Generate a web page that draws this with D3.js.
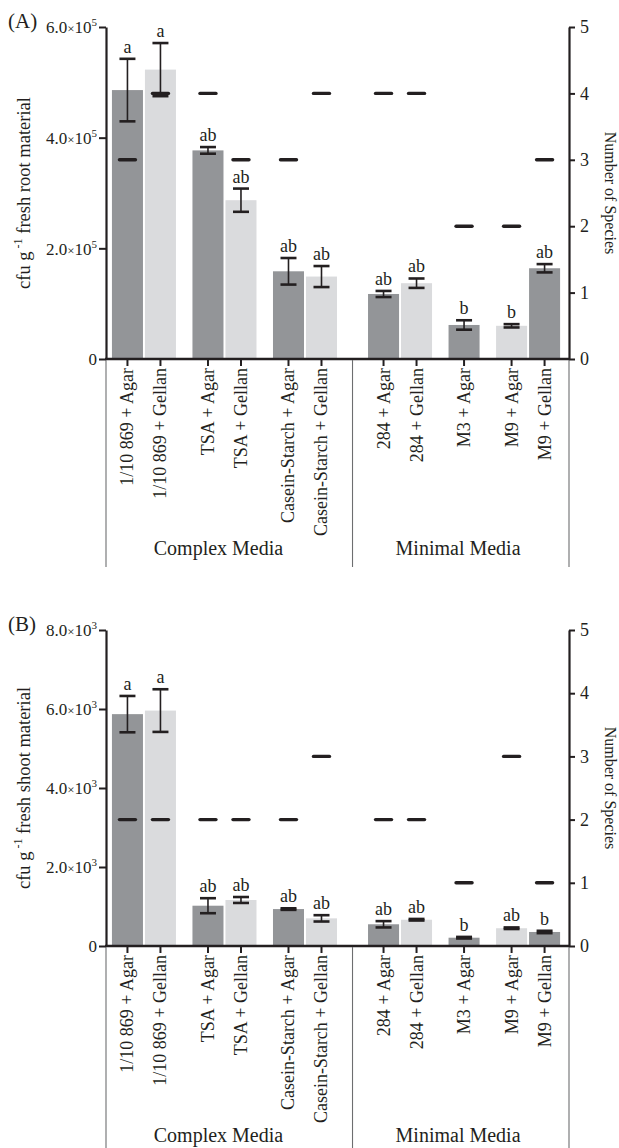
<!DOCTYPE html>
<html>
<head>
<meta charset="utf-8">
<script src="https://cdn.jsdelivr.net/npm/d3@7"></script>
<style>
  html, body { margin: 0; padding: 0; background: #fff; }
  svg { display: block; font-family: "Liberation Serif", "DejaVu Serif", serif; }
</style>
</head>
<body>
<svg id="chart" width="619" height="1148"></svg>
<script>
// Culture media (x categories) and the media class each belongs to
const media = [
  "1/10 869 + Agar", "1/10 869 + Gellan",
  "TSA + Agar", "TSA + Gellan",
  "Casein-Starch + Agar", "Casein-Starch + Gellan",
  "284 + Agar", "284 + Gellan",
  "M3 + Agar",
  "M9 + Agar", "M9 + Gellan"
];
const mediaGroup = ["Complex Media", "Complex Media", "Complex Media", "Complex Media", "Complex Media", "Complex Media",
  "Minimal Media", "Minimal Media", "Minimal Media", "Minimal Media", "Minimal Media"];
const groups = ["Complex Media", "Minimal Media"];
// spacer units placed before each bar (pairs separated, classes separated more)
const spacersBefore = [0, 0, 1, 1, 2, 2, 4, 4, 5, 6, 6];

// (A) roots: cfu per g fresh material, standard error, number of species, letters
const rootCfu = [4.86e5, 5.23e5, 3.77e5, 2.87e5, 1.585e5, 1.49e5, 1.175e5, 1.37e5, 0.615e5, 0.60e5, 1.64e5];
const rootErr = [0.565e5, 0.48e5, 0.06e5, 0.21e5, 0.24e5, 0.19e5, 0.055e5, 0.085e5, 0.085e5, 0.03e5, 0.075e5];
const rootSpecies = [3, 4, 4, 3, 3, 4, 4, 4, 2, 2, 3];
const rootLetters = ["a", "a", "ab", "ab", "ab", "ab", "ab", "ab", "b", "b", "ab"];
const rootTicks = [0, 2e5, 4e5, 6e5];
const rootTickMant = ["0", "2.0", "4.0", "6.0"];
const rootTickExp = ["", "5", "5", "5"];

// (B) shoots
const shootCfu = [5.87e3, 5.96e3, 1.02e3, 1.165e3, 0.935e3, 0.70e3, 0.55e3, 0.665e3, 0.21e3, 0.45e3, 0.355e3];
const shootErr = [0.46e3, 0.54e3, 0.19e3, 0.075e3, 0.02e3, 0.08e3, 0.08e3, 0.02e3, 0.02e3, 0.02e3, 0.03e3];
const shootSpecies = [2, 2, 2, 2, 2, 3, 2, 2, 1, 3, 1];
const shootLetters = ["a", "a", "ab", "ab", "ab", "ab", "ab", "ab", "b", "ab", "b"];
const shootTicks = [0, 2e3, 4e3, 6e3, 8e3];
const shootTickMant = ["0", "2.0", "4.0", "6.0", "8.0"];
const shootTickExp = ["", "3", "3", "3", "3"];

const speciesTicks = [0, 1, 2, 3, 4, 5];

const DARK = "#939598";
const LIGHT = "#dadbdd";
const INK = "#231f20";

const svg = d3.select("#chart");

const plotLeft = 106, plotRight = 569;
const spacer = 0.44;
const slotPos = media.map((m, i) => i + spacersBefore[i] * spacer);
const x = d3.scaleLinear().domain([-0.65, 13.38]).range([plotLeft, plotRight]);
const slotW = x(1) - x(0);
const barW = slotW * 0.94;

function panel(cfg) {
  const g = svg.append("g");
  const y = d3.scaleLinear().domain([0, cfg.yMax]).range([cfg.bottom, cfg.top]);
  const ys = d3.scaleLinear().domain([0, 5]).range([cfg.bottom, cfg.top]);

  // bars
  g.selectAll("rect.bar").data(cfg.values).join("rect")
    .attr("class", "bar")
    .attr("x", (d, i) => x(slotPos[i]) - barW / 2)
    .attr("width", barW)
    .attr("y", d => y(d))
    .attr("height", d => y(0) - y(d))
    .attr("fill", (d, i) => i % 2 === 0 ? DARK : LIGHT);

  // error bars
  const eb = g.selectAll("g.err").data(cfg.values).join("g").attr("class", "err");
  eb.append("line")
    .attr("x1", (d, i) => x(slotPos[i])).attr("x2", (d, i) => x(slotPos[i]))
    .attr("y1", (d, i) => y(d + cfg.errors[i])).attr("y2", (d, i) => y(d - cfg.errors[i]))
    .attr("stroke", INK).attr("stroke-width", 1.6);
  [1, -1].forEach(s => {
    eb.append("line")
      .attr("x1", (d, i) => x(slotPos[i]) - 8).attr("x2", (d, i) => x(slotPos[i]) + 8)
      .attr("y1", (d, i) => y(d + s * cfg.errors[i])).attr("y2", (d, i) => y(d + s * cfg.errors[i]))
      .attr("stroke", INK).attr("stroke-width", 2.6);
  });

  // significance letters
  g.selectAll("text.sig").data(cfg.letters).join("text")
    .attr("class", "sig")
    .attr("x", (d, i) => x(slotPos[i]))
    .attr("y", (d, i) => y(cfg.values[i] + cfg.errors[i]) - 6)
    .attr("text-anchor", "middle")
    .attr("font-size", 18)
    .attr("fill", INK)
    .text(d => d);

  // number of species markers
  g.selectAll("line.sp").data(cfg.species).join("line")
    .attr("class", "sp")
    .attr("x1", (d, i) => x(slotPos[i]) - 8).attr("x2", (d, i) => x(slotPos[i]) + 8)
    .attr("y1", d => ys(d)).attr("y2", d => ys(d))
    .attr("stroke", INK).attr("stroke-width", 3.4).attr("stroke-linecap", "round");

  // left axis
  const la = g.append("g").attr("transform", `translate(${plotLeft},0)`)
    .call(d3.axisLeft(y).tickValues(cfg.ticks).tickSize(7).tickSizeOuter(0).tickFormat(""));
  la.select(".domain").attr("stroke", INK).attr("stroke-width", 2.2);
  la.selectAll(".tick line").attr("stroke", INK).attr("stroke-width", 2);
  la.selectAll(".tick").each(function (d, i) {
    const t = d3.select(this).append("text")
      .attr("x", -9).attr("dy", "0.34em")
      .attr("text-anchor", "end").attr("fill", INK)
      .attr("font-size", 17).attr("font-family", "Liberation Serif, serif");
    if (cfg.tickExp[i] === "") {
      t.text(cfg.tickMant[i]);
    } else {
      t.append("tspan").text(cfg.tickMant[i]);
      t.append("tspan").attr("font-size", 13).text("×");
      t.append("tspan").text("10");
      t.append("tspan").attr("font-size", 11).attr("dy", -7).text(cfg.tickExp[i]);
    }
  });

  // right axis (number of species)
  const ra = g.append("g").attr("transform", `translate(${plotRight},0)`)
    .call(d3.axisRight(ys).tickValues(speciesTicks).tickFormat(d3.format("d"))
      .tickSize(6).tickSizeOuter(0).tickPadding(5));
  ra.select(".domain").attr("stroke", INK).attr("stroke-width", 2.2);
  ra.selectAll(".tick line").attr("stroke", INK).attr("stroke-width", 2);
  ra.selectAll(".tick text").attr("font-size", 18).attr("fill", INK)
    .attr("font-family", "Liberation Serif, serif");

  // bottom axis with category ticks
  g.append("line")
    .attr("x1", plotLeft - 1).attr("x2", plotRight + 1)
    .attr("y1", cfg.bottom).attr("y2", cfg.bottom)
    .attr("stroke", INK).attr("stroke-width", 2.4);
  g.selectAll("line.ct").data(media).join("line")
    .attr("class", "ct")
    .attr("x1", (d, i) => x(slotPos[i])).attr("x2", (d, i) => x(slotPos[i]))
    .attr("y1", cfg.bottom).attr("y2", cfg.bottom + 7)
    .attr("stroke", INK).attr("stroke-width", 2);
  g.selectAll("text.cat").data(media).join("text")
    .attr("class", "cat")
    .attr("transform", (d, i) => `translate(${x(slotPos[i]) + 6},${cfg.bottom + 9}) rotate(-90)`)
    .attr("text-anchor", "end")
    .attr("font-size", 18)
    .attr("fill", INK)
    .text(d => d);

  // class separators and names
  const firstMinimal = mediaGroup.indexOf("Minimal Media");
  const divX = (x(slotPos[firstMinimal - 1]) + x(slotPos[firstMinimal])) / 2;
  [plotLeft, divX, plotRight].forEach(px => {
    g.append("line")
      .attr("x1", px).attr("x2", px)
      .attr("y1", cfg.bottom + 1).attr("y2", cfg.sepEnd)
      .attr("stroke", "#6d6e70").attr("stroke-width", 1.1);
  });
  groups.forEach(gr => {
    const idx = media.map((m, i) => i).filter(i => mediaGroup[i] === gr);
    const cx = (x(slotPos[idx[0]]) + x(slotPos[idx[idx.length - 1]])) / 2 - 6;
    g.append("text")
      .attr("x", cx).attr("y", cfg.groupY)
      .attr("text-anchor", "middle").attr("font-size", 20).attr("fill", INK)
      .text(gr);
  });

  // axis titles and panel tag
  const mid = (cfg.top + cfg.bottom) / 2;
  const yt = g.append("text")
    .attr("transform", `translate(30,${mid}) rotate(-90)`)
    .attr("text-anchor", "middle").attr("font-size", 18.5).attr("fill", INK);
  yt.append("tspan").text("cfu g");
  yt.append("tspan").attr("font-size", 12).attr("dy", -8).text(" -1");
  yt.append("tspan").attr("dy", 8).text(" " + cfg.yTitle);

  g.append("text")
    .attr("transform", `translate(605,${mid}) rotate(90)`)
    .attr("text-anchor", "middle").attr("font-size", 16).attr("fill", INK)
    .text("Number of Species");

  g.append("text")
    .attr("x", 8).attr("y", cfg.top + 1)
    .attr("font-size", 21).attr("fill", INK)
    .text(cfg.tag);
}

panel({
  tag: "(A)", top: 27, bottom: 359, yMax: 6e5,
  values: rootCfu, errors: rootErr, species: rootSpecies, letters: rootLetters,
  ticks: rootTicks, tickMant: rootTickMant, tickExp: rootTickExp,
  yTitle: "fresh root material", sepEnd: 567, groupY: 555
});
panel({
  tag: "(B)", top: 630, bottom: 946, yMax: 8e3,
  values: shootCfu, errors: shootErr, species: shootSpecies, letters: shootLetters,
  ticks: shootTicks, tickMant: shootTickMant, tickExp: shootTickExp,
  yTitle: "fresh shoot material", sepEnd: 1148, groupY: 1142
});
</script>
</body>
</html>
